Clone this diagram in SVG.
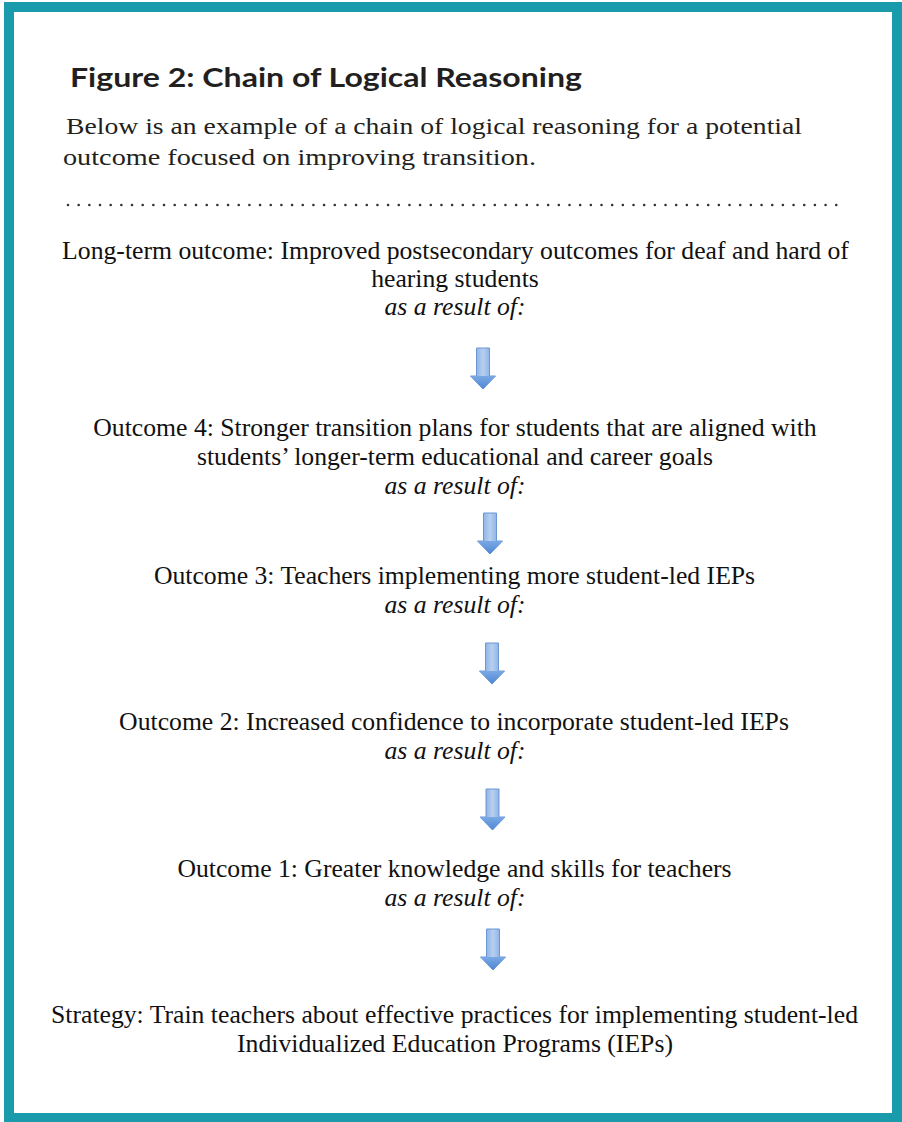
<svg xmlns="http://www.w3.org/2000/svg" width="902" height="1122" viewBox="0 0 902 1122">
<style>
.title{font-family:Lato,"Open Sans",sans-serif;font-weight:bold;font-size:26px;fill:#231f20}
.intro{font-family:"Liberation Serif",serif;font-size:24px;fill:#231f20}
.t{font-family:"Liberation Serif","Times New Roman",serif;font-size:25.7px;fill:#111;text-anchor:middle}
.i{font-style:italic}
</style>
<defs>
<linearGradient id="ag" x1="0" y1="0" x2="1" y2="0">
<stop offset="0" stop-color="#6a9ddf"/>
<stop offset="0.5" stop-color="#b8cff0"/>
<stop offset="1" stop-color="#6a9ddf"/>
</linearGradient>
<linearGradient id="hg" x1="0" y1="0" x2="0" y2="1">
<stop offset="0" stop-color="#7aa8e4"/>
<stop offset="1" stop-color="#4f88d4"/>
</linearGradient>
<g id="arrow">
<path d="M-6.5,0 H6.5 V28 H12.5 L0,41 L-12.5,28 H-6.5 Z" fill="url(#ag)" stroke="#6b97d2" stroke-width="1"/>
<path d="M-12.5,28 H12.5 L0,41 Z" fill="url(#hg)"/>
</g>
</defs>
<rect x="0" y="0" width="902" height="1122" fill="#ffffff"/>
<rect x="9" y="7" width="888" height="1111" fill="none" stroke="#1a9bab" stroke-width="10"/>
<g id="header">
<text class="title" x="70" y="87" textLength="512" lengthAdjust="spacingAndGlyphs">Figure 2: Chain of Logical Reasoning</text>
<text class="intro" x="66" y="134" textLength="736" lengthAdjust="spacingAndGlyphs">Below is an example of a chain of logical reasoning for a potential</text>
<text class="intro" x="63" y="165" textLength="473" lengthAdjust="spacingAndGlyphs">outcome focused on improving transition.</text>
<line x1="68" y1="205" x2="844" y2="205" stroke="#333" stroke-width="2.6" stroke-linecap="round" stroke-dasharray="0.01 10.66"/>
</g>
<g id="node-longterm">
<text class="t" x="455.5" y="259">Long-term outcome: Improved postsecondary outcomes for deaf and hard of</text>
<text class="t" x="455" y="287">hearing students</text>
<text class="t i" x="455" y="315">as a result of:</text>
</g>
<g id="node-outcome4">
<text class="t" x="455" y="436">Outcome 4: Stronger transition plans for students that are aligned with</text>
<text class="t" x="455" y="465">students’ longer-term educational and career goals</text>
<text class="t i" x="455" y="494">as a result of:</text>
</g>
<g id="node-outcome3">
<text class="t" x="454.5" y="584">Outcome 3: Teachers implementing more student-led IEPs</text>
<text class="t i" x="455" y="613">as a result of:</text>
</g>
<g id="node-outcome2">
<text class="t" x="454" y="730">Outcome 2: Increased confidence to incorporate student-led IEPs</text>
<text class="t i" x="455" y="759">as a result of:</text>
</g>
<g id="node-outcome1">
<text class="t" x="454.5" y="877">Outcome 1: Greater knowledge and skills for teachers</text>
<text class="t i" x="455" y="906">as a result of:</text>
</g>
<g id="node-strategy">
<text class="t" x="454.5" y="1023">Strategy: Train teachers about effective practices for implementing student-led</text>
<text class="t" x="455" y="1052">Individualized Education Programs (IEPs)</text>
</g>
<g id="connectors">
<use href="#arrow" transform="translate(483,348)"/>
<use href="#arrow" transform="translate(490,513)"/>
<use href="#arrow" transform="translate(492,643)"/>
<use href="#arrow" transform="translate(492.5,789)"/>
<use href="#arrow" transform="translate(493,929)"/>
</g>
</svg>
